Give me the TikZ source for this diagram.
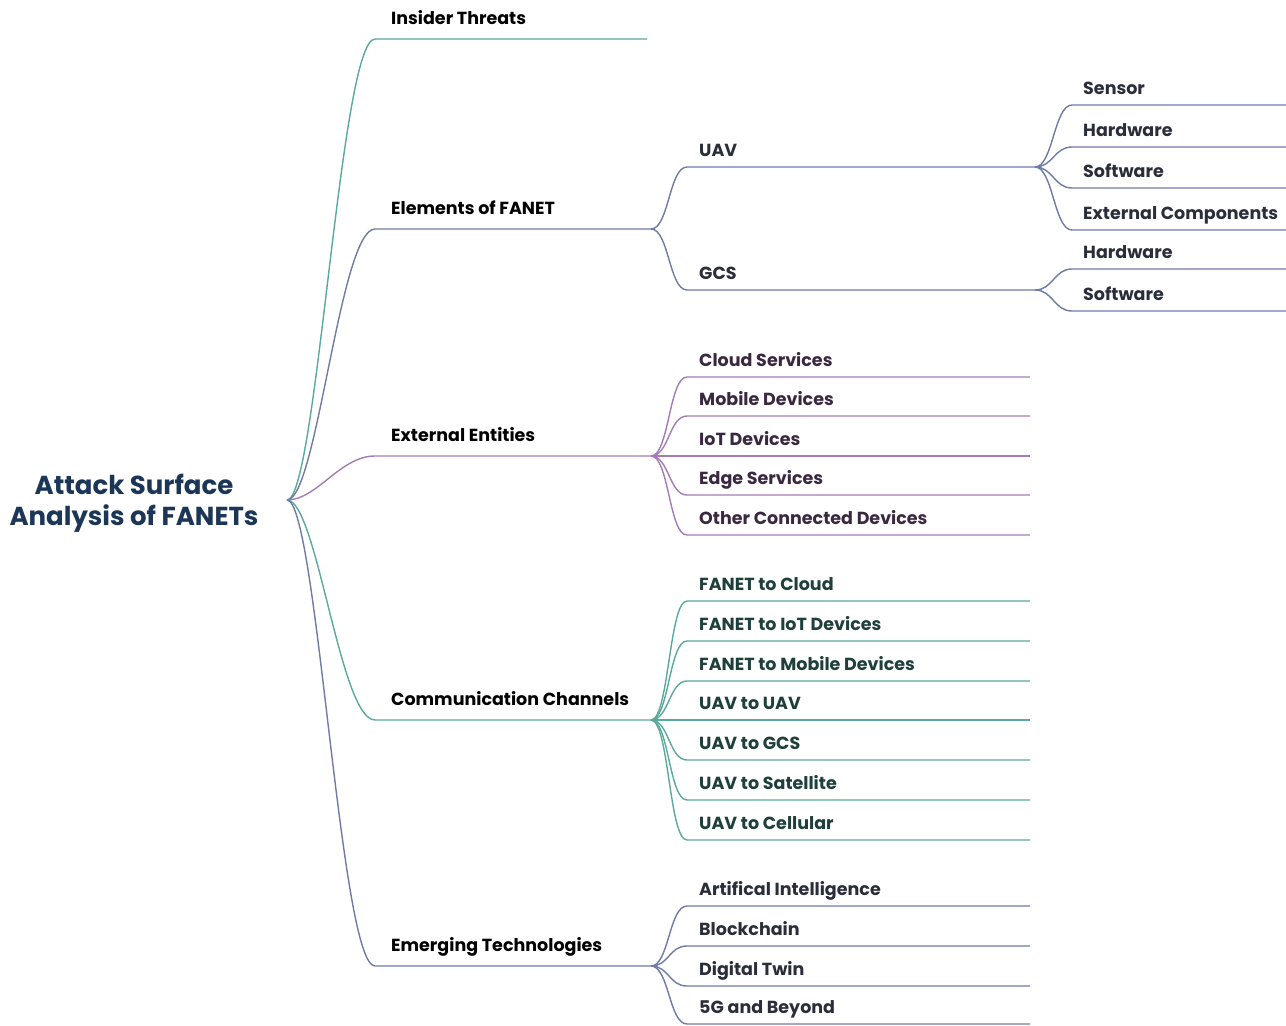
\documentclass[tikz,border=0pt]{standalone}
\usepackage{fontspec}
\setmainfont{Poppins}
\definecolor{cteal}{HTML}{5BA89E}
\definecolor{cslate}{HTML}{6E7BA5}
\definecolor{cpurple}{HTML}{A57CB5}
\definecolor{tteal}{HTML}{1E3F3B}
\definecolor{tslate}{HTML}{2A2E3B}
\definecolor{tpurple}{HTML}{3A2840}
\definecolor{tnavy}{HTML}{1B3656}
\tikzset{
  conn/.style={line width=1.4pt},
  lone/.style={anchor=base west, inner sep=0pt, font=\fontsize{17.5}{20}\selectfont\bfseries, text=black},
  ltwo/.style={anchor=base west, inner sep=0pt, font=\fontsize{17.5}{20}\selectfont\bfseries},
  titlebox/.style={align=center, inner sep=0pt, font=\fontsize{26}{31}\selectfont\bfseries, text=tnavy},
}
\begin{document}
\begin{tikzpicture}[x=1pt,y=-1pt]
\useasboundingbox (0,0) rectangle (1286,1026);
% root
\node[titlebox] (title) at (134,503) {Attack Surface\\Analysis of FANETs};
\coordinate (root) at (287,500);
% level 1
\foreach \n/\y/\xe/\c/\t in {ins/39/647/cteal/Insider Threats, ele/229/651/cslate/Elements of FANET, ext/456/651/cpurple/External Entities, com/720/651/cteal/Communication Channels, emg/966/651/cslate/Emerging Technologies}{
  \coordinate (\n-s) at (375,\y);
  \coordinate (\n-e) at (\xe,\y);
  \draw[conn,\c] (root) .. controls +(30,0) and +(-35,0) .. (\n-s) -- (\n-e);
  \node[lone] (\n-l) at (391,\y-15) {\t};
}
% level 2: external entities
\foreach \y/\t [count=\i] in {377/Cloud Services, 416/Mobile Devices, 456/IoT Devices, 495/Edge Services, 535/Other Connected Devices}{
  \coordinate (ext\i-s) at (687,\y);
  \coordinate (ext\i-e) at (1030,\y);
  \draw[conn,cpurple] (ext-e) .. controls +(18,0) and +(-18,0) .. (ext\i-s) -- (ext\i-e);
  \node[ltwo,text=tpurple] (ext\i-l) at (699,\y-11) {\t};
}
% level 2: communication channels
\foreach \y/\t [count=\i] in {601/FANET to Cloud, 641/FANET to IoT Devices, 681/FANET to Mobile Devices, 720/UAV to UAV, 760/UAV to GCS, 800/UAV to Satellite, 840/UAV to Cellular}{
  \coordinate (com\i-s) at (687,\y);
  \coordinate (com\i-e) at (1030,\y);
  \draw[conn,cteal] (com-e) .. controls +(18,0) and +(-18,0) .. (com\i-s) -- (com\i-e);
  \node[ltwo,text=tteal] (com\i-l) at (699,\y-11) {\t};
}
% level 2: emerging technologies
\foreach \y/\t [count=\i] in {906/Artifical Intelligence, 946/Blockchain, 986/Digital Twin, 1024/5G and Beyond}{
  \coordinate (emg\i-s) at (687,\y);
  \coordinate (emg\i-e) at (1030,\y);
  \draw[conn,cslate] (emg-e) .. controls +(18,0) and +(-18,0) .. (emg\i-s) -- (emg\i-e);
  \node[ltwo,text=tslate] (emg\i-l) at (699,\y-11) {\t};
}
% level 2: elements
\foreach \n/\y/\t in {uav/167/UAV, gcs/290/GCS}{
  \coordinate (\n-s) at (687,\y);
  \coordinate (\n-e) at (1035,\y);
  \draw[conn,cslate] (ele-e) .. controls +(18,0) and +(-18,0) .. (\n-s) -- (\n-e);
  \node[ltwo,text=tslate] (\n-l) at (699,\y-11) {\t};
}
% level 3
\foreach \y/\t [count=\i] in {105/Sensor, 147/Hardware, 188/Software, 230/External Components}{
  \coordinate (uav\i-s) at (1072,\y);
  \coordinate (uav\i-e) at (1286,\y);
  \draw[conn,cslate] (uav-e) .. controls +(18,0) and +(-18,0) .. (uav\i-s) -- (uav\i-e);
  \node[ltwo,text=tslate] (uav\i-l) at (1083,\y-11) {\t};
}
\foreach \y/\t [count=\i] in {269/Hardware, 311/Software}{
  \coordinate (gcs\i-s) at (1072,\y);
  \coordinate (gcs\i-e) at (1286,\y);
  \draw[conn,cslate] (gcs-e) .. controls +(18,0) and +(-18,0) .. (gcs\i-s) -- (gcs\i-e);
  \node[ltwo,text=tslate] (gcs\i-l) at (1083,\y-11) {\t};
}
\end{tikzpicture}
\end{document}
